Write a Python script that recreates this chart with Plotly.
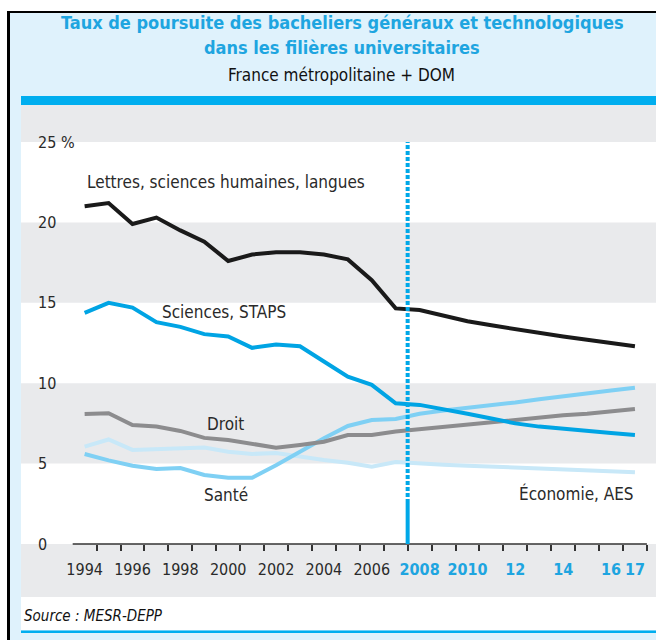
import plotly.graph_objects as go

# ---------------- data ----------------
years = list(range(1994, 2018))
lettres = [21.0, 21.2, 19.9, 20.3, 19.5, 18.8, 17.6, 18.0, 18.15, 18.15, 18.0, 17.7,
           16.4, 14.65, 14.55, 14.2, 13.85, 13.6, 13.35, 13.1, 12.9, 12.7, 12.5, 12.3]
sciences = [14.37, 15.0, 14.7, 13.8, 13.5, 13.05, 12.9, 12.2, 12.4, 12.3, 11.35, 10.4,
            9.9, 8.75, 8.65, 8.4, 8.1, 7.8, 7.5, 7.3, 7.15, 7.0, 6.9, 6.78]
droit = [8.08, 8.13, 7.4, 7.3, 7.03, 6.6, 6.47, 6.26, 5.99, 6.16, 6.36, 6.78,
         6.78, 7.0, 7.15, 7.3, 7.45, 7.55, 7.7, 7.85, 8.0, 8.1, 8.25, 8.4]
sante = [5.6, 5.2, 4.87, 4.66, 4.72, 4.29, 4.12, 4.12, 4.9, 5.74, 6.58, 7.34,
         7.71, 7.78, 8.1, 8.3, 8.45, 8.65, 8.8, 9.0, 9.2, 9.35, 9.55, 9.72]
economie = [6.05, 6.5, 5.85, 5.9, 5.9, 6.0, 5.74, 5.6, 5.66, 5.43, 5.22, 5.05,
            4.8, 5.1, 5.0, 4.93, 4.87, 4.82, 4.76, 4.7, 4.64, 4.58, 4.52, 4.46]

series_names = ["Lettres, sciences humaines, langues", "Sciences, STAPS", "Droit", "Santé", "Économie, AES"]

y_tickvals = [0, 5, 10, 15, 20, 25]
y_ticktext = ["0", "5", "10", "15", "20", "25 %"]

x_label_years = [1994, 1996, 1998, 2000, 2002, 2004, 2006, 2008, 2010, 2012, 2014, 2016, 2017]
x_label_text = ["1994", "1996", "1998", "2000", "2002", "2004", "2006",
                "2008", "2010", "12", "14", "16", "17"]
projection_start = 2007.5

# ---------------- styles ----------------
FONT = "DejaVu Sans, sans-serif"
BLUE = "#00a8e8"
TITLE_BLUE = "#1ea5e0"
PANEL = "#dff2fc"
BAND = "#e9eaec"
TXT = "#2a2a2a"

W, H = 656, 640
ML, MR, MT, MB = 21, 0, 105, 43
YMIN, YMAX = -3.296, 27.30
XMIN, XMAX = 1991.34, 2017.88


def pxx(p):
    return (p - ML) / (W - ML - MR)


def pxy(p):
    return (H - MB - p) / (H - MT - MB)


def cond(t):
    return f"<span style='font-stretch:condensed'>{t}</span>"


def f(size, color=TXT):
    return dict(family=FONT, size=size, color=color)


fig = go.Figure()

colors = ["#1a1a1a", "#00a4e4", "#8c8c8e", "#7fd0f4", "#c8e8f8"]
values = [lettres, sciences, droit, sante, economie]
order = [4, 3, 2, 1, 0]
for i in order:
    fig.add_trace(go.Scatter(x=years, y=values[i], mode="lines", name=series_names[i],
                             line=dict(color=colors[i], width=4), hoverinfo="skip",
                             showlegend=False))

shapes = []
bands = [(25, YMAX), (15, 20), (5, 10), (YMIN, 0)]
for b0, b1 in bands:
    shapes.append(dict(type="rect", xref="paper", yref="y", x0=0, x1=1, y0=b0, y1=b1,
                       fillcolor=BAND, line=dict(width=0), layer="below"))
shapes.append(dict(type="line", xref="x", yref="y", x0=years[0] - 0.5, x1=years[-1] + 0.5,
                   y0=0, y1=0, line=dict(color="#333333", width=1.5)))
shapes.append(dict(type="line", xref="x", yref="y", x0=projection_start, x1=projection_start,
                   y0=2.55, y1=25, line=dict(color=BLUE, width=4, dash="4px,2px")))
shapes.append(dict(type="line", xref="x", yref="y", x0=projection_start, x1=projection_start,
                   y0=0, y1=2.55, line=dict(color=BLUE, width=4)))


def prect(x0, y0, x1, y1, color):
    return dict(type="rect", xref="paper", yref="paper", x0=pxx(x0), x1=pxx(x1),
                y0=pxy(y1), y1=pxy(y0), fillcolor=color, line=dict(width=0), layer="above")


shapes += [
    prect(0, 0, W, 11, "white"),
    prect(0, 0, 7, H, "white"),
    prect(7, 11, W, 13, "black"),
    prect(7, 11, 10, H, "black"),
    prect(21, 96, W, 105, "#00aeef"),
    prect(21, 597, W, 630, "white"),
    prect(21, 630.5, W, 633, "#00aeef"),
]


def ann(x, y, text, font, xanchor="center", xref="paper", yref="paper"):
    return dict(xref=xref, yref=yref, x=x, y=y, text=text, font=font, showarrow=False,
                xanchor=xanchor, yanchor="middle")


annotations = [
    ann(pxx(342), pxy(22), cond("<b>Taux de poursuite des bacheliers généraux et technologiques</b>"),
        f(18, TITLE_BLUE)),
    ann(pxx(342), pxy(48), cond("<b>dans les filières universitaires</b>"), f(18, TITLE_BLUE)),
    ann(pxx(341), pxy(75), cond("France métropolitaine + DOM"), f(17, "#111111")),
    ann(pxx(22), pxy(616), cond("<i>Source : MESR-DEPP</i>"), f(15, "#111111"), xanchor="left"),
    ann(1994, 22.5, cond(series_names[0]), f(17), "left", "x", "y"),
    ann(1997.15, 14.43, cond(series_names[1]), f(17), "left", "x", "y"),
    ann(1999.03, 7.46, cond(series_names[2]), f(17), "left", "x", "y"),
    ann(1998.9, 3.05, cond(series_names[3]), f(17), "left", "x", "y"),
    ann(2017.05, 3.17, cond(series_names[4]), f(17), "right", "x", "y"),
]

ticktext = []
for yr, t in zip(x_label_years, x_label_text):
    if yr >= 2008:
        ticktext.append(f"<b><span style='color:{TITLE_BLUE};font-stretch:condensed'>{t}</span></b>")
    else:
        ticktext.append(cond(t))

fig.update_layout(
    width=W, height=H,
    margin=dict(l=ML, r=MR, t=MT, b=MB, pad=0),
    paper_bgcolor=PANEL, plot_bgcolor="white",
    shapes=shapes, annotations=annotations,
    showlegend=False, hovermode=False,
    font=f(16),
    xaxis=dict(range=[XMIN, XMAX], showgrid=False, zeroline=False, showline=False,
               anchor="free", position=(0 - YMIN) / (YMAX - YMIN),
               tickmode="array", tickvals=x_label_years, ticktext=ticktext, ticks="",
               tickangle=0, ticklabelstandoff=14, tickfont=f(16),
               minor=dict(tickmode="array", tickvals=[y - 0.5 for y in years] + [years[-1] + 0.5],
                          ticks="outside", ticklen=6, tickwidth=1.5, tickcolor="#333333",
                          showgrid=False)),
    yaxis=dict(range=[YMIN, YMAX], showgrid=False, zeroline=False, showline=False,
               tickmode="array", tickvals=y_tickvals, ticktext=[cond(t) for t in y_ticktext],
               ticks="", ticklabelposition="inside", ticklabelstandoff=14, tickfont=f(16)),
)

fig.write_html("out.html", config={"displayModeBar": False},
               post_script="document.body.style.margin='0';")
